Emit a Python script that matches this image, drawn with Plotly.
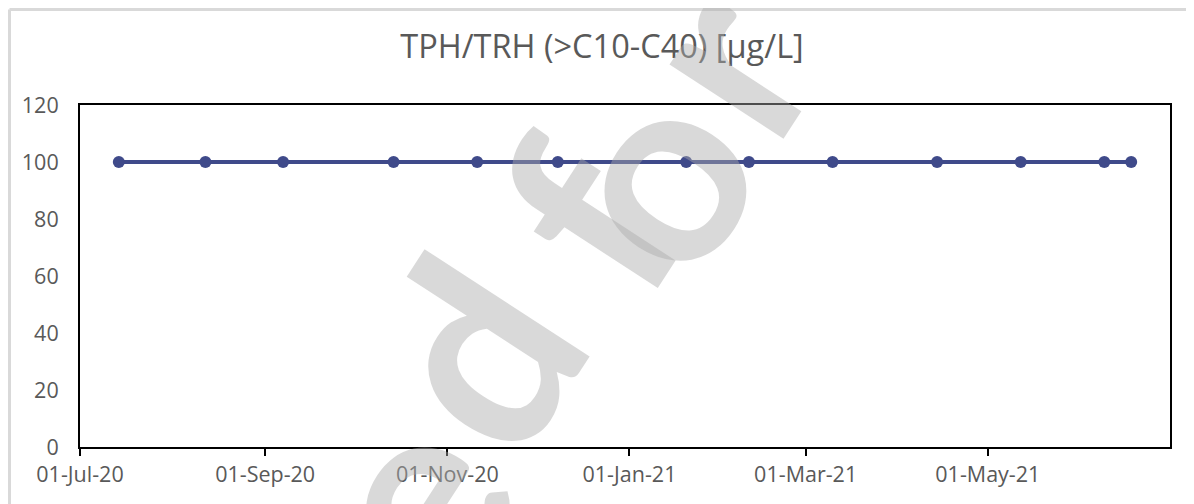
import plotly.graph_objects as go

# ---- data ----
sample_dates = ["2020-07-14", "2020-08-12", "2020-09-07", "2020-10-14", "2020-11-11",
                "2020-12-08", "2021-01-20", "2021-02-10", "2021-03-10", "2021-04-14",
                "2021-05-12", "2021-06-09", "2021-06-18"]
tph_values = [100, 100, 100, 100, 100, 100, 100, 100, 100, 100, 100, 100, 100]
x_tick_vals = ["2020-07-01", "2020-09-01", "2020-11-01", "2021-01-01", "2021-03-01", "2021-05-01"]
x_tick_text = ["01-Jul-20", "01-Sep-20", "01-Nov-20", "01-Jan-21", "01-Mar-21", "01-May-21"]
y_tick_vals = [0, 20, 40, 60, 80, 100, 120]
title_text = "TPH/TRH (>C10-C40) [µg/L]"
watermark_letters = ["e", "d", "f", "o", "r"]

# ---- layout geometry (page pixels; the page body adds an 8px offset) ----
W, H = 1194, 504
OFF = 8
PL, PR, PT, PB = 80 - OFF, 1170 - OFF, 105 - OFF, 447 - OFF
# page-pixel centres of the watermark letters
watermark_pos = [(405, 497), (471, 350), (583, 214), (646, 172), (715, 55)]


def px(xp):
    """page x pixel -> paper x"""
    return (xp - OFF - PL) / (PR - PL)


def py(yp):
    """page y pixel -> paper y"""
    return (PB - (yp - OFF)) / (PB - PT)


GRAY = "#595959"
FONT = "Open Sans"

fig = go.Figure()
fig.add_trace(go.Scatter(
    x=sample_dates, y=tph_values, mode="lines+markers",
    line=dict(color="#3F4A8A", width=4),
    marker=dict(color="#3F4A8A", size=12),
    showlegend=False, hoverinfo="x+y",
))

annotations = []
for ch, (wx, wy) in zip(watermark_letters, watermark_pos):
    annotations.append(dict(
        text=ch, xref="paper", yref="paper", x=px(wx), y=py(wy),
        xanchor="center", yanchor="middle", showarrow=False, textangle=-57,
        font=dict(family="Lato", size=265, color="rgba(170,170,170,0.45)", weight="bold")))

shapes = [
    dict(type="line", xref="paper", yref="paper", x0=px(OFF + 1.5), x1=px(W + 20),
         y0=py(OFF + 1.5), y1=py(OFF + 1.5), line=dict(color="#d9d9d9", width=3)),
    dict(type="line", xref="paper", yref="paper", x0=px(OFF + 1.5), x1=px(OFF + 1.5),
         y0=py(OFF + 1.5), y1=py(H + 20), line=dict(color="#d9d9d9", width=3)),
]

fig.update_layout(
    width=W, height=H,
    margin=dict(l=PL, r=W - PR, t=PT, b=H - PB),
    paper_bgcolor="white", plot_bgcolor="white",
    font=dict(family=FONT, color=GRAY, size=21),
    title=dict(text=title_text, x=(602 - OFF) / W, xanchor="center",
               y=1 - (47 - OFF) / H, yanchor="middle",
               xref="container", yref="container",
               font=dict(family=FONT, size=32.5, color=GRAY)),
    xaxis=dict(type="date", range=["2020-07-01", "2021-07-01"],
               tickvals=x_tick_vals, ticktext=x_tick_text,
               showgrid=False, zeroline=False,
               showline=True, linecolor="black", linewidth=2, mirror=True,
               ticks="outside", ticklen=7, tickwidth=2, tickcolor="black",
               tickfont=dict(family=FONT, size=21.5, color=GRAY)),
    yaxis=dict(range=[0, 120], tickvals=y_tick_vals,
               showgrid=False, zeroline=False,
               showline=True, linecolor="black", linewidth=2, mirror=True,
               ticks="", ticklabelstandoff=15,
               tickfont=dict(family=FONT, size=21.5, color=GRAY)),
    shapes=shapes,
    annotations=annotations,
)

fig.write_html("out.html")
